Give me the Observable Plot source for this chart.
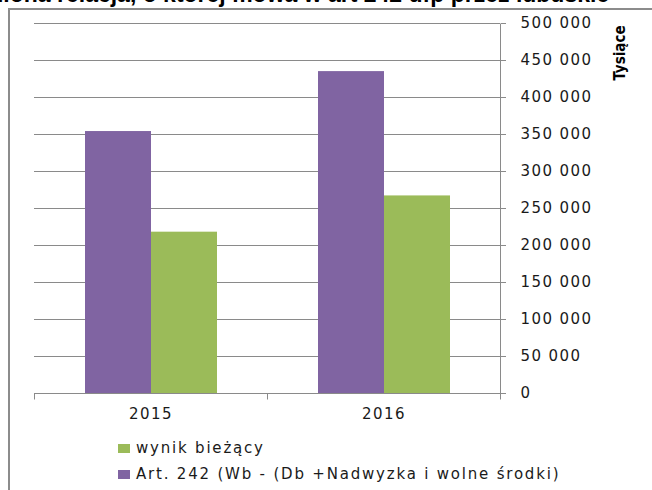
<!DOCTYPE html>
<html><head><meta charset="utf-8">
<script src="https://cdn.jsdelivr.net/npm/d3@7"></script>
<script src="https://cdn.jsdelivr.net/npm/@observablehq/plot@0.6"></script>
<style>
body{margin:0;background:#fff;}
#wrap{position:relative;width:652px;height:490px;overflow:hidden;font-family:"DejaVu Sans",sans-serif;background:#fff;}
#frame{position:absolute;left:8px;top:8px;width:700px;height:600px;border:2px solid #8c8c8c;box-sizing:border-box;}
#title{position:absolute;top:-17px;left:0;white-space:nowrap;font:bold 23px "Liberation Sans",Arial,sans-serif;line-height:23px;color:#000;}
#ylab{position:absolute;left:620px;top:53px;transform:translate(-50%,-50%) rotate(-90deg);font:bold 15px "Liberation Sans Narrow","DejaVu Sans Condensed",sans-serif;color:#000;white-space:nowrap;}
#chart{position:absolute;left:0;top:0;}
#legend{position:absolute;left:118px;top:435px;font-size:15px;letter-spacing:1.8px;color:#1a1a1a;}
.item{display:flex;align-items:center;height:26px;}
.sw{width:12px;height:9px;margin-right:6px;flex:none;}
</style>
</head><body>
<div id="wrap">
  <div id="frame"></div>
  <div id="title"><span id="tpre"></span><span id="trest"></span></div>
  <div id="chart"></div>
  <div id="ylab"></div>
  <div id="legend"></div>
</div>
<script>
const titleHiddenPrefix = "Spełniona ";
const titleVisible = "relacja, o której mowa w art 242 ufp przez lubuskie";
const yLabel = "Tysiące";
const years = ["2015", "2016"];
const seriesNames = ["Art. 242 (Wb -  (Db +Nadwyzka i wolne środki)", "wynik bieżący"];
const art242 = [354000, 435000];
const wynik = [218000, 267000];
const yTicks = [0, 50000, 100000, 150000, 200000, 250000, 300000, 350000, 400000, 450000, 500000];
const colors = ["#8064A2", "#9BBB59"];
const legendOrder = [1, 0];

const rows = years.flatMap((yr, i) => [
  {year: yr, series: seriesNames[0], value: art242[i]},
  {year: yr, series: seriesNames[1], value: wynik[i]}
]);

const fmt = d3.formatLocale({thousands: " ", grouping: [3], decimal: ",", currency: ["", ""]}).format(",d");

// title (cut off at top like the reference)
document.getElementById("tpre").textContent = titleHiddenPrefix;
document.getElementById("trest").textContent = titleVisible;
const preW = document.getElementById("tpre").getBoundingClientRect().width;
document.getElementById("title").style.left = (57 - preW) + "px";

document.getElementById("ylab").textContent = yLabel;

const edgeTicks = Plot.ruleY(years, {
  fx: d => d, y: 0,
  render: (index, scales, values, dims) => {
    const g = d3.create("svg:g").attr("stroke", "#8a8a8a").attr("stroke-width", 1).attr("fill", "none");
    const y0 = Math.round(scales.y(0)) + 0.5;
    const left = dims.marginLeft + 0.5;
    const right = dims.width - dims.marginRight + 0.5;
    g.append("line").attr("x1", left).attr("x2", left).attr("y1", y0).attr("y2", y0 + 6);
    if (years[index[0]] === years[years.length - 1]) {
      g.append("line").attr("x1", right).attr("x2", right)
        .attr("y1", Math.round(scales.y(yTicks[yTicks.length - 1])) + 0.5).attr("y2", y0 + 6);
    }
    return g.node();
  }
});

const chart = Plot.plot({
  width: 652,
  height: 433,
  marginLeft: 33,
  marginRight: 152,
  marginTop: 23,
  marginBottom: 40,
  style: {fontFamily: "DejaVu Sans, sans-serif", fontSize: "15px", color: "#1a1a1a", background: "transparent", letterSpacing: "1.4px", overflow: "visible"},
  fx: {domain: years, padding: 0, label: null},
  x: {domain: seriesNames, paddingInner: 0, paddingOuter: 0.7425, axis: null},
  y: {domain: [0, 500000], label: null},
  color: {domain: seriesNames, range: colors},
  marks: [
    Plot.gridY(yTicks, {stroke: "#8a8a8a", strokeOpacity: 1}),
    Plot.barY(rows, {fx: "year", x: "series", y: "value", fill: "series"}),
    edgeTicks,
    Plot.axisY(yTicks, {anchor: "right", tickSize: 5, tickPadding: 15, tickFormat: fmt, stroke: "#8a8a8a", label: null}),
    Plot.axisFx({anchor: "bottom", tickSize: 0, tickPadding: 15, label: null})
  ]
});
document.getElementById("chart").appendChild(chart);

const legend = document.getElementById("legend");
for (const i of legendOrder) {
  const it = document.createElement("div");
  it.className = "item";
  const sw = document.createElement("span");
  sw.className = "sw";
  sw.style.background = colors[i];
  const lab = document.createElement("span");
  lab.textContent = seriesNames[i];
  it.appendChild(sw);
  it.appendChild(lab);
  legend.appendChild(it);
}
</script>
</body></html>
